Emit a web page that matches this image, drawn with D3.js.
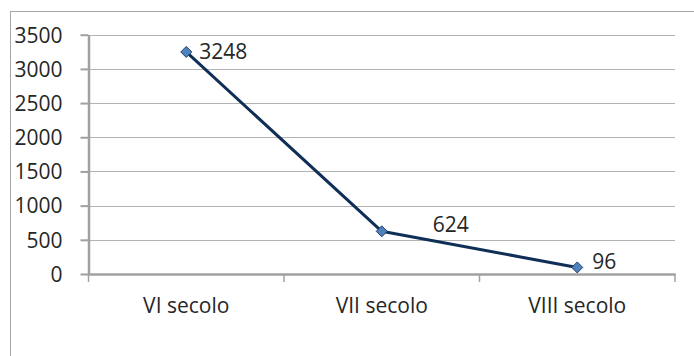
<!DOCTYPE html>
<html>
<head>
<meta charset="utf-8">
<script src="https://cdn.jsdelivr.net/npm/d3@7"></script>
<style>
  html, body { margin: 0; padding: 0; background: #fff; }
  svg { display: block; }
  text { font-family: "Open Sans", "Liberation Sans", sans-serif; fill: #262626; }
</style>
</head>
<body>
<script>
// Data
const categories = ["VI secolo", "VII secolo", "VIII secolo"];
const values = [3248, 624, 96];
const yTicks = [0, 500, 1000, 1500, 2000, 2500, 3000, 3500];

// Label nudges (px) relative to each point
const labelDx = [13, 51, 15];
const labelDy = [0, -7, -6];

const W = 694, H = 356;
const svg = d3.select("body").append("svg").attr("width", W).attr("height", H);

// Outer chart frame
svg.append("rect")
  .attr("x", 10.5).attr("y", 11.5)
  .attr("width", W + 10).attr("height", H + 10)
  .attr("fill", "none").attr("stroke", "#a6a6a6").attr("stroke-width", 1);

const plot = { left: 88.5, right: 675, top: 34.7, bottom: 274 };

const x = d3.scaleBand().domain(categories).range([plot.left, plot.right]).padding(0);
const y = d3.scaleLinear().domain([0, 3500]).range([plot.bottom, plot.top]);

// Horizontal gridlines
svg.append("g").selectAll("line").data(yTicks.filter(d => d > 0)).join("line")
  .attr("x1", plot.left).attr("x2", plot.right)
  .attr("y1", d => Math.round(y(d)) + 0.5).attr("y2", d => Math.round(y(d)) + 0.5)
  .attr("stroke", "#b3b3b3").attr("stroke-width", 1.2);

// Y axis
const yAxis = svg.append("g").attr("transform", `translate(${plot.left},0)`)
  .call(d3.axisLeft(y).tickValues(yTicks).tickFormat(d3.format("d"))
    .tickSize(8).tickPadding(18).tickSizeOuter(0));
yAxis.select(".domain").attr("stroke", "#a0a0a0").attr("stroke-width", 2.5);
yAxis.selectAll(".tick line").attr("stroke", "#a0a0a0").attr("stroke-width", 2);
yAxis.selectAll(".tick text")
  .attr("font-size", 21).attr("fill", "#262626")
  .attr("font-family", "'Open Sans', 'Liberation Sans', sans-serif")
  .attr("dy", "0.35em");

// X axis
const xAxis = svg.append("g").attr("transform", `translate(0,${plot.bottom})`)
  .call(d3.axisBottom(x).tickSize(0).tickPadding(24).tickSizeOuter(0));
xAxis.select(".domain").attr("stroke", "#a0a0a0").attr("stroke-width", 2.5);
xAxis.selectAll(".tick text")
  .attr("font-size", 21).attr("fill", "#262626")
  .attr("font-family", "'Open Sans', 'Liberation Sans', sans-serif");

// Category boundary ticks
const bounds = categories.map(c => x(c)).concat([x(categories[categories.length - 1]) + x.bandwidth()]);
svg.append("g").selectAll("line").data(bounds).join("line")
  .attr("x1", d => d).attr("x2", d => d)
  .attr("y1", plot.bottom).attr("y2", plot.bottom + 8)
  .attr("stroke", "#a0a0a0").attr("stroke-width", 1.5);

// Series line
const pts = categories.map((c, i) => [x(c) + x.bandwidth() / 2, y(values[i])]);
svg.append("path")
  .attr("d", d3.line()(pts))
  .attr("fill", "none").attr("stroke", "#0f2f57").attr("stroke-width", 3)
  .attr("stroke-linejoin", "round");

// Diamond markers
svg.append("g").selectAll("path").data(pts).join("path")
  .attr("transform", d => `translate(${d[0]},${d[1]})`)
  .attr("d", "M0,-5.5L5.5,0L0,5.5L-5.5,0Z")
  .attr("fill", "#4f81bd").attr("stroke", "#1f3f6a").attr("stroke-width", 1);

// Value labels
svg.append("g").selectAll("text").data(values).join("text")
  .attr("x", (d, i) => pts[i][0] + labelDx[i])
  .attr("y", (d, i) => pts[i][1] + labelDy[i])
  .attr("dy", "0.35em")
  .attr("font-size", 21)
  .text(d => d);
</script>
</body>
</html>
